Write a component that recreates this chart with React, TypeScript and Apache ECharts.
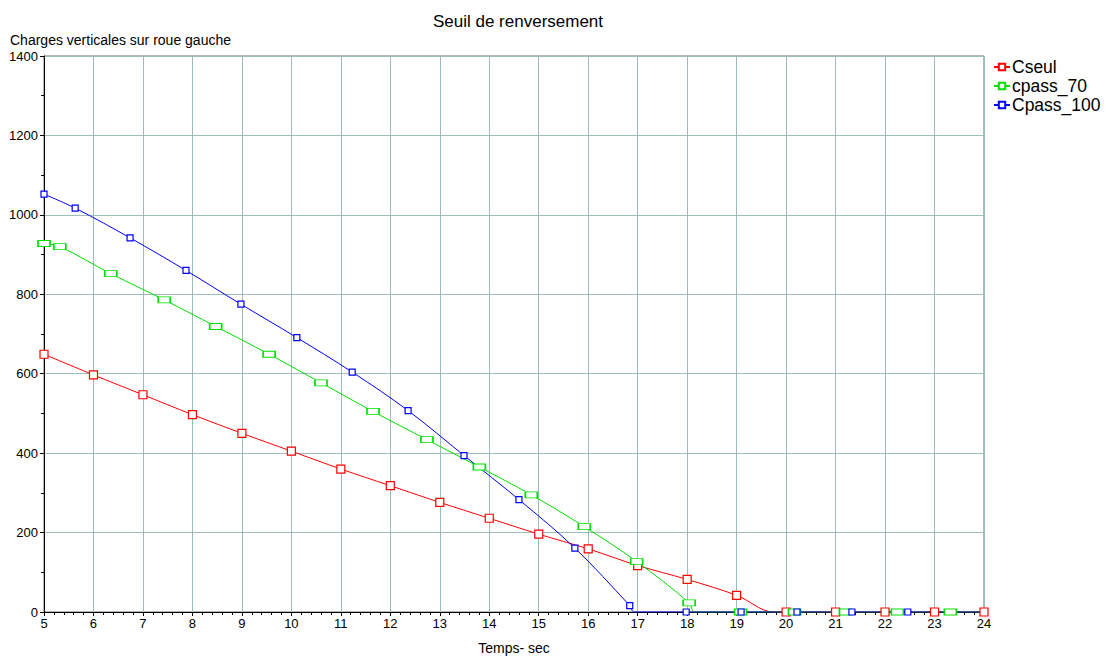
import React, { useEffect, useRef } from "react";
import * as echarts from "echarts";

const titleText = "Seuil de renversement";
const yName = "Charges verticales sur roue gauche";
const xName = "Temps- sec";

// Cseul: markers at integer seconds
const cseulX = [5, 6, 7, 8, 9, 10, 11, 12, 13, 14, 15, 16, 17, 18, 19, 19.75, 20, 21, 22, 23, 24];
const cseulY = [649, 597, 547, 497, 450, 405, 360, 318, 276, 236, 196, 159, 117, 82, 42, 0, 0, 0, 0, 0, 0];
const cseulNoMark = [19.75];

const cpass70X = [5, 5.32, 6.35, 7.43, 8.47, 9.55, 10.6, 11.65, 12.74, 13.8, 14.85, 15.92, 16.98, 18.04, 18.15, 19.08, 20.17, 21.2, 22.25, 23.32, 24];
const cpass70Y = [928, 920, 852, 786, 719, 649, 577, 505, 434, 365, 295, 215, 127, 23, 0, 0, 0, 0, 0, 0, 0];
const cpass70NoMark = [18.15, 24];

const cpass100X = [5, 5.63, 6.74, 7.87, 8.98, 10.11, 11.23, 12.36, 13.49, 14.6, 15.73, 16.84, 16.93, 17.98, 19.09, 20.22, 21.33, 22.46, 24];
const cpass100Y = [1052, 1017, 942, 860, 775, 691, 604, 507, 394, 283, 161, 16, 0, 0, 0, 0, 0, 0, 0];
const cpass100NoMark = [16.93, 24];

const xMin = 5;
const xMax = 24;
const yMin = 0;
const yMax = 1400;
const yStep = 200;

const FONT = "'Liberation Sans', Arial, sans-serif";

function build(xs: number[], ys: number[], noMark: number[]) {
  return xs.map((x, i) =>
    noMark.includes(x) ? { value: [x, ys[i]], symbol: "none" } : { value: [x, ys[i]] }
  );
}

export default function App() {
  const ref = useRef<HTMLDivElement>(null);
  useEffect(() => {
    if (!ref.current) return;
    const chart = echarts.init(ref.current, null, { renderer: "svg" });
    const mkSeries = (name: string, color: string, data: any[], size: any) => ({
      name,
      type: "line",
      data,
      smooth: 0.35,
      symbol: "rect",
      symbolSize: size,
      showSymbol: true,
      lineStyle: { color, width: 1 },
      itemStyle: { color: "#ffffff", borderColor: color, borderWidth: 1.2 },
      emphasis: { disabled: true },
      z: 3,
    });
    chart.setOption({
      animation: false,
      backgroundColor: "#ffffff",
      textStyle: { fontFamily: FONT },
      title: {
        text: titleText,
        left: 513,
        top: 8,
        textAlign: "center",
        textStyle: { fontFamily: FONT, fontSize: 17, fontWeight: "normal", color: "#000" },
      },
      grid: {
        left: 44,
        top: 56,
        width: 940,
        height: 563,
        show: true,
        borderColor: "#6e6e6e",
        borderWidth: 1,
        containLabel: false,
      },
      legend: {
        orient: "vertical",
        left: 988,
        top: 53,
        itemGap: 1,
        itemWidth: 16,
        itemHeight: 8,
        textStyle: { fontFamily: FONT, fontSize: 17.5, color: "#000", padding: [0, 0, 0, -3] },
        data: ["Cseul", "cpass_70", "Cpass_100"],
      },
      xAxis: {
        type: "value",
        min: xMin,
        max: xMax,
        interval: 1,
        name: xName,
        nameLocation: "middle",
        nameGap: 29,
        nameTextStyle: { fontFamily: FONT, fontSize: 14, color: "#000" },
        axisLine: { onZero: false, lineStyle: { color: "#000", width: 1 } },
        axisTick: { show: true, length: 4, lineStyle: { color: "#000" } },
        minorTick: { show: true, splitNumber: 5, length: 3, lineStyle: { color: "#000" } },
        axisLabel: { fontFamily: FONT, fontSize: 13, color: "#000", margin: 5 },
        splitLine: { show: true, lineStyle: { color: "#9dbdbd", width: 1 } },
      },
      yAxis: {
        type: "value",
        min: yMin,
        max: yMax,
        interval: yStep,
        name: yName,
        nameLocation: "end",
        nameGap: 9,
        nameTextStyle: { fontFamily: FONT, fontSize: 14, color: "#000", align: "left", padding: [0, 0, 0, -34] },
        axisLine: { show: true, lineStyle: { color: "#000", width: 1 } },
        axisTick: { show: true, length: 4, lineStyle: { color: "#000" } },
        minorTick: { show: true, splitNumber: 2, length: 3, lineStyle: { color: "#000" } },
        axisLabel: { fontFamily: FONT, fontSize: 13, color: "#000", margin: 6, formatter: (v: number) => String(v) },
        splitLine: { show: true, lineStyle: { color: "#9dbdbd", width: 1 } },
      },
      series: [
        mkSeries("Cseul", "#ff0000", build(cseulX, cseulY, cseulNoMark), [8, 8]),
        mkSeries("cpass_70", "#00e000", build(cpass70X, cpass70Y, cpass70NoMark), [12, 6]),
        mkSeries("Cpass_100", "#0000ff", build(cpass100X, cpass100Y, cpass100NoMark), [6, 6]),
      ],
    });
    return () => chart.dispose();
  }, []);
  return (
    <div
      ref={ref}
      style={{ position: "fixed", left: 0, top: 0, width: 1106, height: 660, background: "#fff" }}
    />
  );
}
